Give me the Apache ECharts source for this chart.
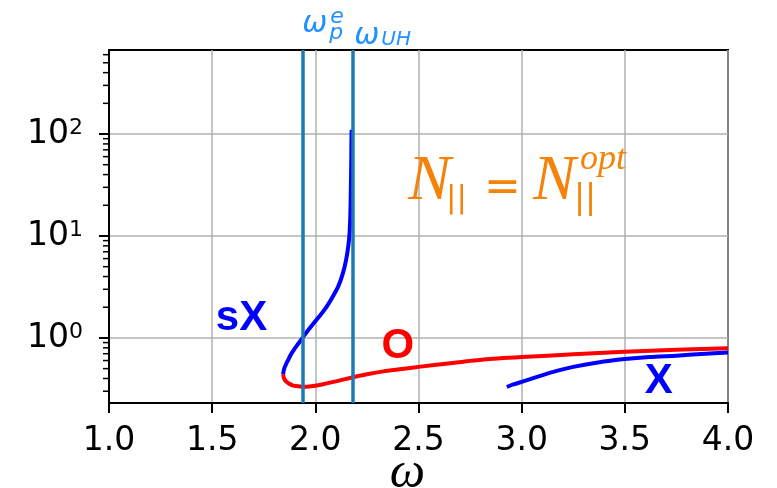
<!DOCTYPE html>
<html><head><meta charset="utf-8">
<script src="https://cdn.jsdelivr.net/npm/echarts@6/dist/echarts.min.js"></script>
<style>html,body{margin:0;padding:0;background:#fff}#c{width:777px;height:488px}</style>
</head><body><div id="c"></div>
<script>
// ---- data ----
const xTicks = [1.0, 1.5, 2.0, 2.5, 3.0, 3.5, 4.0];
const yTicks = [1, 10, 100];
const yMinorTicks = [0.3,0.4,0.5,0.6,0.7,0.8,0.9,2,3,4,5,6,7,8,9,20,30,40,50,60,70,80,90,200,300,400,500,600];
const xRange = [1.0, 4.0];
const yRange = [0.23, 667];

// sX branch (blue), from turning point upward
const sXOmega = [1.844,1.846,1.850,1.856,1.862,1.869,1.880,1.895,1.912,1.930,1.942,1.965,1.990,2.020,2.055,2.085,2.111,2.132,2.149,2.160,2.166,2.170,2.172,2.174,2.175,2.176];
const sXN     = [0.44, 0.47, 0.505,0.54, 0.575,0.61, 0.68, 0.76, 0.85, 0.95, 1.03, 1.19, 1.38, 1.63, 2.03, 2.55, 3.2,  4.2,  5.8,  8.0,  10.7, 17,   28,   50,   87,   110];
// O branch (red)
const oOmega = [1.844,1.846,1.850,1.858,1.867,1.877,1.890,1.905,1.942,1.980,2.020,2.100,2.168,2.250,2.330,2.420,2.500,2.653,2.815,3.000,3.250,3.500,3.750,4.000];
const oN     = [0.44, 0.415,0.395,0.375,0.362,0.352,0.343,0.337,0.332,0.336,0.346,0.375,0.405,0.44, 0.47, 0.495,0.52, 0.565,0.615,0.65, 0.69, 0.73, 0.765,0.79];
// X branch (blue)
const xOmega = [2.928,2.960,3.000,3.090,3.170,3.250,3.370,3.500,3.620,3.750,3.870,4.000];
const xN     = [0.33, 0.35, 0.37, 0.425,0.475,0.52, 0.575,0.62, 0.65, 0.67, 0.695,0.72];
// characteristic frequencies
const omegaPe = 1.942;
const omegaUH = 2.184;
const xAxisTitle = 'ω';

// ---- chart ----
const zip = (a, b) => a.map((v, i) => [v, b[i]]);
const chart = echarts.init(document.getElementById('c'));
const curveStyle = (c) => ({ type:'line', showSymbol:false, smooth:0.2, clip:true, lineStyle:{color:c, width:4, cap:'butt', join:'round'}, z:3 });
const option = {
  animation:false,
  backgroundColor:'#fff',
  grid:{left:109, right:49, top:50, bottom:85, outerBoundsMode:'none', containLabel:false,
        show:true, borderColor:'#000', borderWidth:2, backgroundColor:'transparent'},
  xAxis:{
    type:'value', min:xRange[0], max:xRange[1], interval:0.5,
    axisLine:{show:true, lineStyle:{color:'#000', width:2}},
    axisTick:{show:true, length:10, lineStyle:{color:'#000', width:2}},
    axisLabel:{color:'#000', fontSize:33, fontFamily:'DejaVu Sans', margin:22, formatter:(v)=>v.toFixed(1)},
    splitLine:{show:true, lineStyle:{color:'#b0b0b0', width:1.5}}
  },
  yAxis:{
    type:'log', logBase:10, min:yRange[0], max:yRange[1],
    axisLine:{show:true, lineStyle:{color:'#000', width:2}},
    axisTick:{show:true, length:10, lineStyle:{color:'#000', width:2}, customValues:yTicks},
    axisLabel:{customValues:yTicks, margin:26, color:'#000',
      formatter:(v)=>'{b|10}{s|'+Math.round(Math.log10(v))+'}',
      rich:{b:{fontSize:33, fontFamily:'DejaVu Sans', color:'#000'},
            s:{fontSize:22, fontFamily:'DejaVu Sans', color:'#000', padding:[0,0,12,0]}}},
    splitLine:{show:true, lineStyle:{color:'#b0b0b0', width:1.5}}
  },
  series:[
    Object.assign(curveStyle('#ff0000'), {name:'O', data:zip(oOmega, oN)}),
    Object.assign(curveStyle('#0000ff'), {name:'sX', data:zip(sXOmega, sXN)}),
    Object.assign(curveStyle('#0000ff'), {name:'X', data:zip(xOmega, xN)}),
    {type:'line', data:[], z:5, markLine:{silent:true, symbol:['none','none'], label:{show:false},
      lineStyle:{color:'#1f77b4', width:3.5, type:'solid'},
      data:[{xAxis:omegaPe},{xAxis:omegaUH}]}},
    {type:'custom', z:4, clip:false, data:yMinorTicks.map(v=>[xRange[0], v]),
      renderItem:(params, api)=>{
        const p = api.coord([api.value(0), api.value(1)]);
        return {type:'line', shape:{x1:p[0]-6, y1:p[1], x2:p[0], y2:p[1]}, style:{stroke:'#000', lineWidth:1.5}};
      }}
  ]
};
chart.setOption(option);

// ---- annotations anchored to data coordinates ----
const px = (w, n) => chart.convertToPixel({gridIndex:0}, [w, n]);
function txt(x, base, text, size, family, opts) {
  opts = opts || {};
  return {type:'text', z:10, silent:true, style:{
    text, x, y: base - 0.35*size, fill: opts.color || '#000',
    font: (opts.style||'normal') + ' ' + (opts.weight||'normal') + ' ' + size + 'px "' + family + '"',
    align: opts.align || 'left', verticalAlign:'middle'}};
}
const g = [];
// x-axis title, centred under the axis
const axL = px(xRange[0], yRange[0]), axR = px(xRange[1], yRange[0]);
g.push(txt((axL[0]+axR[0])/2 - 11, axL[1] + 88, xAxisTitle, 50, 'Liberation Serif', {style:'italic', align:'center'}));

const pe = px(omegaPe, yRange[1]);
const uh = px(omegaUH, yRange[1]);
const cLab = '#1e90ff';
g.push(txt(pe[0]-1, 35, 'ω', 30, 'DejaVu Sans', {style:'oblique', color:cLab}));
g.push(txt(pe[0]+27, 25, 'e', 22, 'DejaVu Sans', {style:'oblique', color:cLab}));
g.push(txt(pe[0]+26, 41, 'p', 22, 'DejaVu Sans', {style:'oblique', color:cLab}));
g.push(txt(uh[0]+1, 47, 'ω', 30, 'DejaVu Sans', {style:'oblique', color:cLab}));
g.push(txt(uh[0]+28, 47, 'UH', 20, 'DejaVu Sans', {style:'oblique', color:cLab}));

const bold = {weight:'bold', align:'center'};
const aSX = px(1.642, 1.55), aO = px(2.40, 0.835), aX = px(3.664, 0.38);
g.push(txt(aSX[0], aSX[1]+15, 'sX', 42, 'Liberation Sans', Object.assign({color:'#0000ff'}, bold)));
g.push(txt(aO[0], aO[1]+15, 'O', 42, 'Liberation Sans', Object.assign({color:'#ff0000'}, bold)));
g.push(txt(aX[0], aX[1]+15, 'X', 42, 'Liberation Sans', Object.assign({color:'#0000ff'}, bold)));

const orange = '#f5820a';
const aN = px(2.449, 20.1);
const nx = aN[0], nb = aN[1];
g.push(txt(nx, nb, 'N', 64, 'Liberation Serif', {style:'italic', color:orange}));
g.push(txt(nx+38, nb+5, '||', 31, 'DejaVu Sans', {color:orange}));
g.push(txt(nx+76, nb, '=', 44, 'DejaVu Sans', {color:orange}));
g.push(txt(nx+125, nb, 'N', 64, 'Liberation Serif', {style:'italic', color:orange}));
g.push(txt(nx+166, nb+6, '||', 33, 'DejaVu Sans', {color:orange}));
g.push(txt(nx+172, nb-33, 'opt', 36, 'Liberation Serif', {style:'italic', color:orange}));
chart.setOption({graphic:g});
</script></body></html>
